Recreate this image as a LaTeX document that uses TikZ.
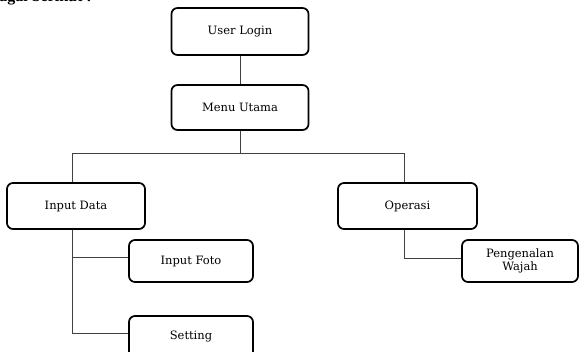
\documentclass[tikz,border=0pt]{standalone}
\usepackage{fontspec}
\setmainfont{DejaVu Serif}
\newfontfamily\topfont{Liberation Serif}
\begin{document}
\begin{tikzpicture}[x=1pt,y=-1pt,
  box/.style={draw=black, line width=1.7pt, rounded corners=6pt, align=center,
    font=\fontsize{11.5}{13}\selectfont, inner sep=0pt},
  conn/.style={draw=black!75, line width=0.8pt}]
\useasboundingbox (0,0) rectangle (580,351);
\clip (0,0) rectangle (580,351);
\node[anchor=base east, inner sep=0pt, font=\topfont\bfseries\fontsize{16}{18}\selectfont] (toptext) at (92,1.5) {sebagai berikut :};
\node[box, minimum width=137pt, minimum height=47pt] (login) at (240,31.5) {User Login};
\node[box, minimum width=137pt, minimum height=45pt] (menu) at (240,107.5) {Menu Utama};
\node[box, minimum width=138pt, minimum height=46pt] (data) at (76,206) {Input Data};
\node[box, minimum width=124pt, minimum height=42pt] (foto) at (191,261) {Input Foto};
\node[box, minimum width=124pt, minimum height=42pt] (setting) at (191,337) {Setting};
\node[box, minimum width=139pt, minimum height=46pt] (operasi) at (407.5,206) {Operasi};
\node[box, minimum width=116pt, minimum height=42pt] (wajah) at (520,261) {Pengenalan\\Wajah};
\coordinate (hub) at (240,153);
\draw[conn] (login.south) -- (menu.north);
\draw[conn] (menu.south) -- (hub);
\draw[conn] ([xshift=-4pt]data.north) |- (hub);
\draw[conn] ([xshift=-3.5pt]operasi.north) |- (hub);
\draw[conn] ([xshift=-4pt]data.south) |- ([yshift=4pt]foto.west);
\draw[conn] ([xshift=-4pt]data.south) |- ([yshift=4pt]setting.west);
\draw[conn] ([xshift=-3.5pt]operasi.south) |- ([yshift=3pt]wajah.west);
\end{tikzpicture}
\end{document}
